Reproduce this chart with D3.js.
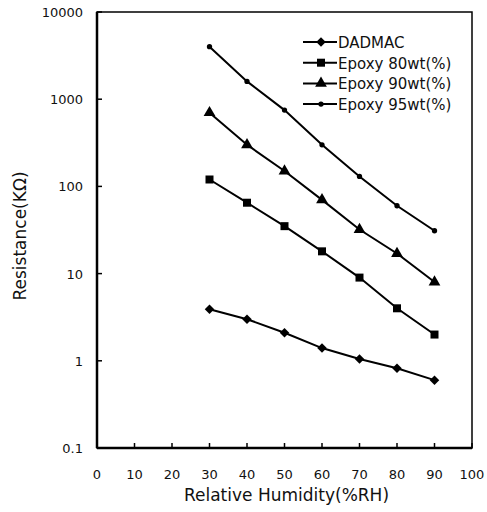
<!DOCTYPE html>
<meta charset="utf-8">
<style>
    body { margin: 0; background: #fff; }
    text { font-family: "DejaVu Sans", "Liberation Sans", sans-serif; fill: #111; }
</style>
<script src="https://d3js.org/d3.v7.min.js"></script>
<div id="chart"></div>
<script>
// humidity points (%RH)
var humidity = [30, 40, 50, 60, 70, 80, 90];

// resistance values (kOhm)
var dadmac   = [3.9, 3.0, 2.1, 1.4, 1.05, 0.82, 0.6];
var epoxy80  = [120, 65, 35, 18, 9, 4, 2];
var epoxy90  = [700, 300, 150, 70, 32, 17, 8];
var epoxy95  = [4000, 1600, 750, 300, 130, 60, 31];

var seriesNames = ["DADMAC", "Epoxy 80wt(%)", "Epoxy 90wt(%)", "Epoxy 95wt(%)"];
var seriesShapes = ["diamond", "square", "triangle", "circle"];
var seriesValues = [dadmac, epoxy80, epoxy90, epoxy95];

var xTicks = [0, 10, 20, 30, 40, 50, 60, 70, 80, 90, 100];
var yTicks = [0.1, 1, 10, 100, 1000, 10000];

var W = 487, H = 512;
var margin = {top: 12, right: 15, bottom: 64, left: 97};
var width = W - margin.left - margin.right,
    height = H - margin.top - margin.bottom;

var svg = d3.select("#chart").append("svg")
    .attr("width", W).attr("height", H)
    .append("g")
    .attr("transform", "translate(" + margin.left + "," + margin.top + ")");

var x = d3.scaleLinear().domain([0, 100]).range([0, width]);
var y = d3.scaleLog().domain([0.1, 10000]).range([height, 0]);

// frame
svg.append("rect")
    .attr("width", width).attr("height", height)
    .attr("fill", "none").attr("stroke", "#000").attr("stroke-width", 1.5);

// thicker left and bottom axes
svg.append("line").attr("x1", 0).attr("x2", 0).attr("y1", 0).attr("y2", height)
    .attr("stroke", "#000").attr("stroke-width", 2.5);
svg.append("line").attr("x1", 0).attr("x2", width).attr("y1", height).attr("y2", height)
    .attr("stroke", "#000").attr("stroke-width", 2.5);

// x ticks (inward) and labels
svg.selectAll(".xt").data(xTicks).enter().append("line")
    .attr("x1", d => x(d)).attr("x2", d => x(d))
    .attr("y1", height).attr("y2", height - 5)
    .attr("stroke", "#000").attr("stroke-width", 1.5);
svg.selectAll(".xl").data(xTicks).enter().append("text")
    .attr("x", d => x(d)).attr("y", height + 31)
    .attr("text-anchor", "middle")
    .style("font-size", "13px")
    .text(d => d);

// y ticks (inward) and labels
svg.selectAll(".yt").data(yTicks).enter().append("line")
    .attr("x1", 0).attr("x2", 5)
    .attr("y1", d => y(d)).attr("y2", d => y(d))
    .attr("stroke", "#000").attr("stroke-width", 1.5);
svg.selectAll(".yl").data(yTicks).enter().append("text")
    .attr("x", -14).attr("y", d => y(d) + 5)
    .attr("text-anchor", "end")
    .style("font-size", "13px")
    .text(d => d);

// axis titles
svg.append("text")
    .attr("x", width / 2 + 2).attr("y", height + 53)
    .attr("text-anchor", "middle")
    .style("font-size", "17px")
    .text("Relative Humidity(%RH)");
svg.append("text")
    .attr("transform", "translate(" + (-71) + "," + (height / 2 + 6) + ") rotate(-90)")
    .attr("text-anchor", "middle")
    .style("font-size", "17px")
    .text("Resistance(K\u03A9)");

var shapeSize = {diamond: 45, square: 64, triangle: 60, circle: 22};
var shapeType = {diamond: d3.symbolSquare, square: d3.symbolSquare, triangle: d3.symbolTriangle, circle: d3.symbolCircle};
var shapeRot = {diamond: 45, square: 0, triangle: 0, circle: 0};

var line = d3.line()
    .x(d => x(d.h))
    .y(d => y(d.r));

seriesValues.forEach(function (vals, i) {
    var pts = humidity.map((h, j) => ({h: h, r: vals[j]}));
    var shp = seriesShapes[i];
    svg.append("path").datum(pts)
        .attr("d", line)
        .attr("fill", "none").attr("stroke", "#000").attr("stroke-width", 2);
    svg.selectAll(".m" + i).data(pts).enter().append("path")
        .attr("transform", d => "translate(" + x(d.h) + "," + y(d.r) + ") rotate(" + shapeRot[shp] + ")")
        .attr("d", d3.symbol().type(shapeType[shp]).size(shapeSize[shp]))
        .attr("fill", "#000");
});

// legend
var legX = 303 - margin.left, legY = 42 - margin.top;
var leg = svg.selectAll(".leg").data(seriesNames).enter().append("g")
    .attr("transform", (d, i) => "translate(" + legX + "," + (legY + i * 20.7) + ")");
leg.append("line").attr("x1", 0).attr("x2", 34).attr("y1", 0).attr("y2", 0)
    .attr("stroke", "#000").attr("stroke-width", 2);
leg.append("path")
    .attr("transform", (d, i) => "translate(18,0) rotate(" + shapeRot[seriesShapes[i]] + ")")
    .attr("d", (d, i) => d3.symbol().type(shapeType[seriesShapes[i]]).size(shapeSize[seriesShapes[i]])())
    .attr("fill", "#000");
leg.append("text")
    .attr("x", 35).attr("y", 6)
    .style("font-size", "15px")
    .text(d => d);
</script>
